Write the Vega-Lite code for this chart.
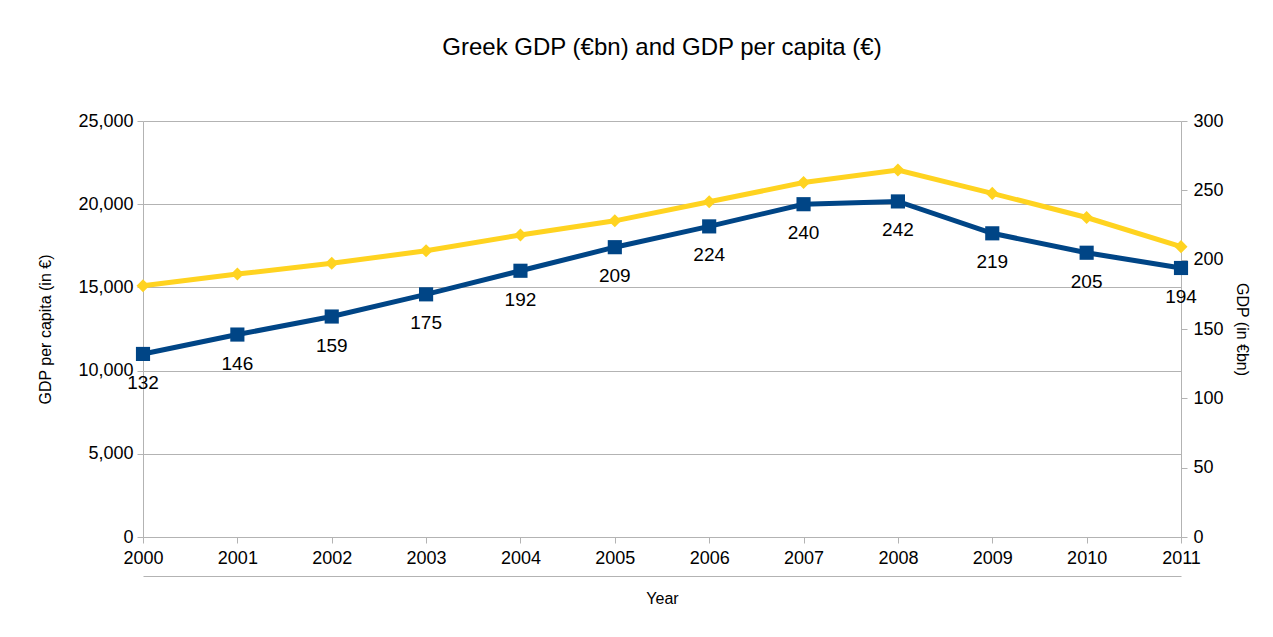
{
  "$schema": "https://vega.github.io/schema/vega-lite/v6.json",
  "width": 1038,
  "height": 416,
  "autosize": "none",
  "padding": {"left": 143, "top": 121, "right": 92, "bottom": 100},
  "background": "white",
  "title": {
    "text": "Greek GDP (€bn) and GDP per capita (€)",
    "fontSize": 24,
    "fontWeight": "normal",
    "color": "#000000",
    "anchor": "middle",
    "offset": 52
  },
  "config": {
    "view": {"stroke": null},
    "font": "Liberation Sans, Arial, sans-serif",
    "axis": {
      "domainColor": "#b3b3b3",
      "tickColor": "#b3b3b3",
      "gridColor": "#b3b3b3",
      "labelColor": "#000000",
      "titleColor": "#000000",
      "labelFontSize": 18,
      "titleFontSize": 16,
      "titleFontWeight": "normal"
    }
  },
  "data": {
    "values": [
      {"year": 2000, "gdp": 132, "gdppc": 15100},
      {"year": 2001, "gdp": 146, "gdppc": 15800},
      {"year": 2002, "gdp": 159, "gdppc": 16450},
      {"year": 2003, "gdp": 175, "gdppc": 17200},
      {"year": 2004, "gdp": 192, "gdppc": 18150},
      {"year": 2005, "gdp": 209, "gdppc": 19000},
      {"year": 2006, "gdp": 224, "gdppc": 20150},
      {"year": 2007, "gdp": 240, "gdppc": 21300},
      {"year": 2008, "gdp": 242, "gdppc": 22050},
      {"year": 2009, "gdp": 219, "gdppc": 20650},
      {"year": 2010, "gdp": 205, "gdppc": 19200},
      {"year": 2011, "gdp": 194, "gdppc": 17450}
    ]
  },
  "layer": [
    {
      "mark": {"type": "line", "color": "#ffd320", "strokeWidth": 5, "point": {"shape": "diamond", "size": 170, "filled": true, "color": "#ffd320"}},
      "encoding": {
        "x": {
          "field": "year", "type": "quantitative",
          "scale": {"domain": [2000, 2011], "nice": false, "zero": false},
          "axis": {"orient": "bottom", "values": [2000,2001,2002,2003,2004,2005,2006,2007,2008,2009,2010,2011], "format": "d", "title": null, "grid": false, "tickSize": 6, "labelPadding": 6, "labelFlush": false, "labelOverlap": false}
        },
        "y": {
          "field": "gdppc", "type": "quantitative",
          "scale": {"domain": [0, 25000], "nice": false},
          "axis": {"orient": "left", "values": [0,5000,10000,15000,20000,25000], "format": ",.0f", "title": "GDP per capita (in €)", "grid": true, "tickSize": 6, "labelPadding": 4, "titlePadding": 24}
        }
      }
    },
    {
      "encoding": {
        "x": {
          "field": "year", "type": "quantitative",
          "scale": {"domain": [2000, 2011], "nice": false, "zero": false},
          "axis": {"orient": "bottom", "labels": false, "ticks": false, "domain": true, "grid": false, "offset": 39, "title": "Year", "titlePadding": 14}
        },
        "y": {
          "field": "gdp", "type": "quantitative",
          "scale": {"domain": [0, 300], "nice": false},
          "axis": {"orient": "right", "values": [0,50,100,150,200,250,300], "title": "GDP (in €bn)", "grid": false, "tickSize": 6, "labelPadding": 6, "titlePadding": 10}
        }
      },
      "layer": [
        {"mark": {"type": "line", "color": "#004586", "strokeWidth": 5, "point": {"shape": "square", "size": 200, "filled": true, "color": "#004586"}}},
        {"mark": {"type": "text", "dy": 29, "fontSize": 19, "color": "#000000", "baseline": "middle", "align": "center"}, "encoding": {"text": {"field": "gdp", "type": "quantitative"}}}
      ]
    }
  ],
  "resolve": {"scale": {"y": "independent"}, "axis": {"x": "independent"}}
}
